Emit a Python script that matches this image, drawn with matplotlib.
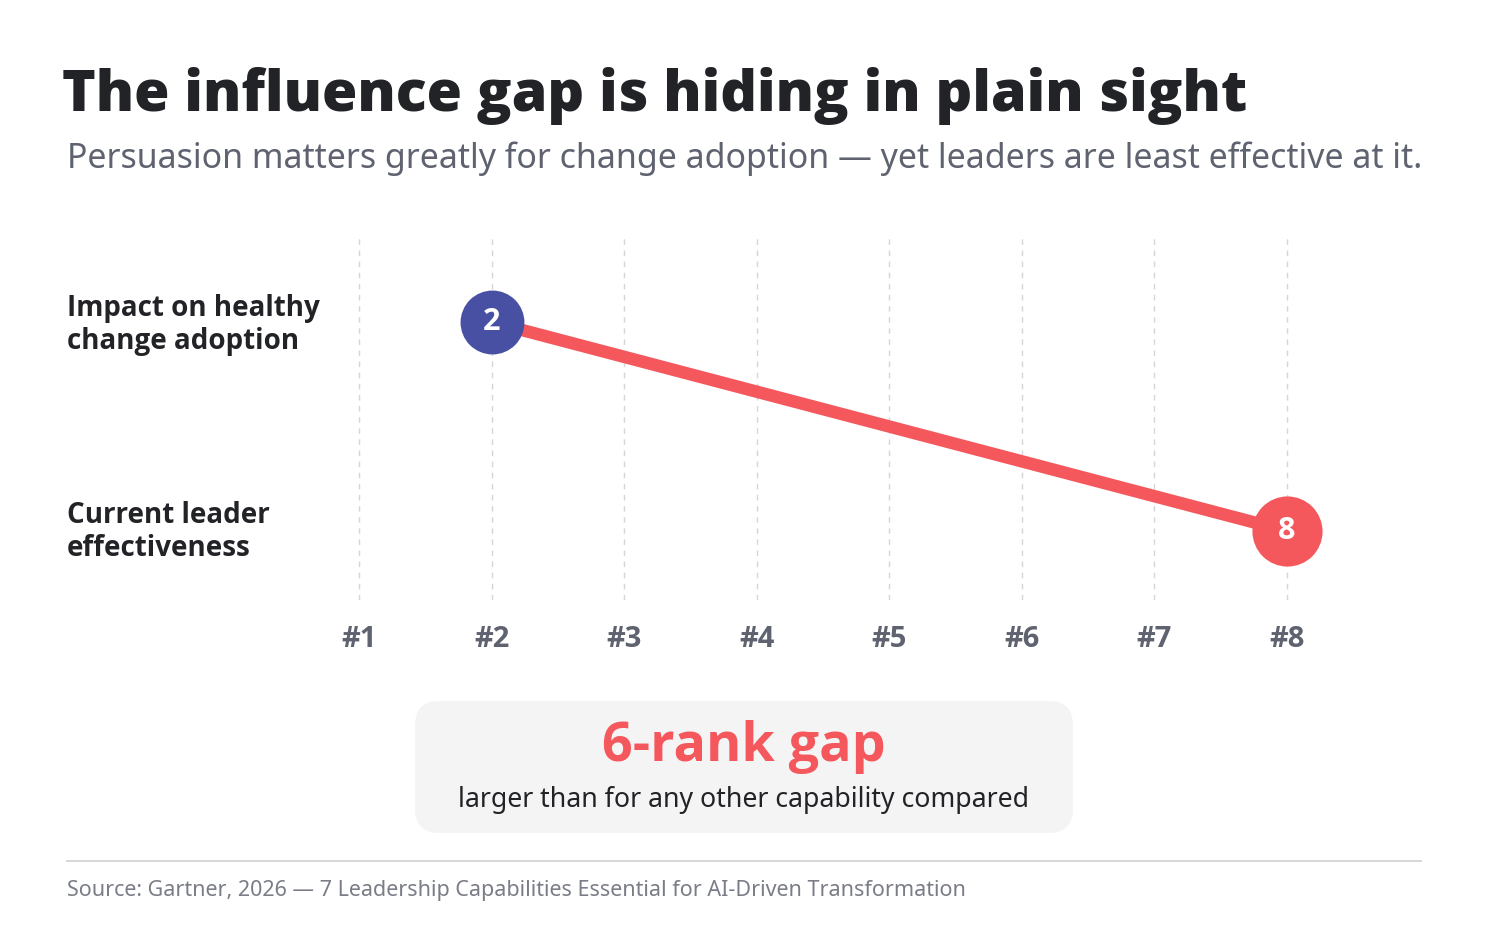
import matplotlib
matplotlib.use('Agg')
import matplotlib.pyplot as plt
from matplotlib.patches import FancyBboxPatch

plt.rcParams['font.family'] = ['Noto Sans', 'DejaVu Sans']
BOLD = ['Open Sans', 'DejaVu Sans']

# dados
ranks = [1, 2, 3, 4, 5, 6, 7, 8]
rank_labels = ['#1', '#2', '#3', '#4', '#5', '#6', '#7', '#8']
row_labels = ['Impact on healthy\nchange adoption', 'Current leader\neffectiveness']
row_rank = [2, 8]
gap = row_rank[1] - row_rank[0]

title = 'The influence gap is hiding in plain sight'
subtitle = 'Persuasion matters greatly for change adoption — yet leaders are least effective at it.'
source = 'Source: Gartner, 2026 — 7 Leadership Capabilities Essential for AI-Driven Transformation'

W, H = 1488, 930
BLUE = '#4850a3'
RED = '#f4585c'
DARK = '#222326'
GRAY = '#5f6370'

fig = plt.figure(figsize=(W / 100, H / 100), dpi=100)
fig.patch.set_facecolor('white')

# eixo de fundo em pixels para textos e caixa
bg = fig.add_axes([0, 0, 1, 1])
bg.set_xlim(0, W)
bg.set_ylim(H, 0)
bg.axis('off')

# eixo principal
left, right = 359 - 66.3, 1287 + 66.3
top, bottom = 238, 600
ax = fig.add_axes([left / W, 1 - bottom / H, (right - left) / W, (bottom - top) / H])
ax.set_xlim(0.5, 8.5)
ax.set_ylim(-0.330, 1.402)
ax.axis('off')

for r in ranks:
    ax.axvline(r, color='#d6d6d9', lw=1, ls=(0, (4, 4)), zorder=0)

yrows = [1, 0]
ax.plot(row_rank, yrows, color=RED, lw=9, solid_capstyle='butt', zorder=2)
ax.scatter([row_rank[0]], [yrows[0]], s=46 ** 2, color=BLUE, zorder=3, linewidths=0)
ax.scatter([row_rank[1]], [yrows[1]], s=50.5 ** 2, color=RED, zorder=3, linewidths=0)
for r, y in zip(row_rank, yrows):
    ax.text(r, y, str(r), color='white', fontsize=22, fontweight='bold', family=BOLD,
            ha='center', va='center', zorder=4)

# rótulos do eixo x
for r, lab in zip(ranks, rank_labels):
    ax.text(r, -0.330 - 39 / 209, lab, color=GRAY, fontsize=21, fontweight='bold',
            family=BOLD, ha='center', va='center', clip_on=False)

# rótulos das linhas
for lab, y in zip(row_labels, [325, 532]):
    bg.text(67, y, lab, color=DARK, fontsize=20, fontweight='bold', family=BOLD,
            ha='left', va='center', linespacing=1.15)

# título
bg.text(62, 96, title, color=DARK, fontsize=41.3, fontweight='heavy', family=BOLD,
        ha='left', va='center')
bg.text(67, 159, subtitle, color=GRAY, fontsize=24.4, ha='left', va='center')

# caixa de destaque
pad = 24
box = FancyBboxPatch((415 + pad, 701 + pad), 1073 - 415 - 2 * pad, 833 - 701 - 2 * pad,
                     boxstyle=f'round,pad={pad},rounding_size={pad}',
                     facecolor='#f4f4f5', edgecolor='none')
bg.add_patch(box)
bg.text(744, 747, f'{gap}-rank gap', color=RED, fontsize=38.7, fontweight='bold', family=BOLD,
        ha='center', va='center')
bg.text(744, 800, 'larger than for any other capability compared', color=DARK,
        fontsize=19.2, ha='center', va='center')

# rodapé
bg.plot([67, 1421], [861, 861], color='#d0d0d3', lw=1.2)
bg.text(67, 890, source, color='#7a7d87', fontsize=15.5, ha='left', va='center')

fig.savefig('out.png', dpi=100, facecolor='white')
